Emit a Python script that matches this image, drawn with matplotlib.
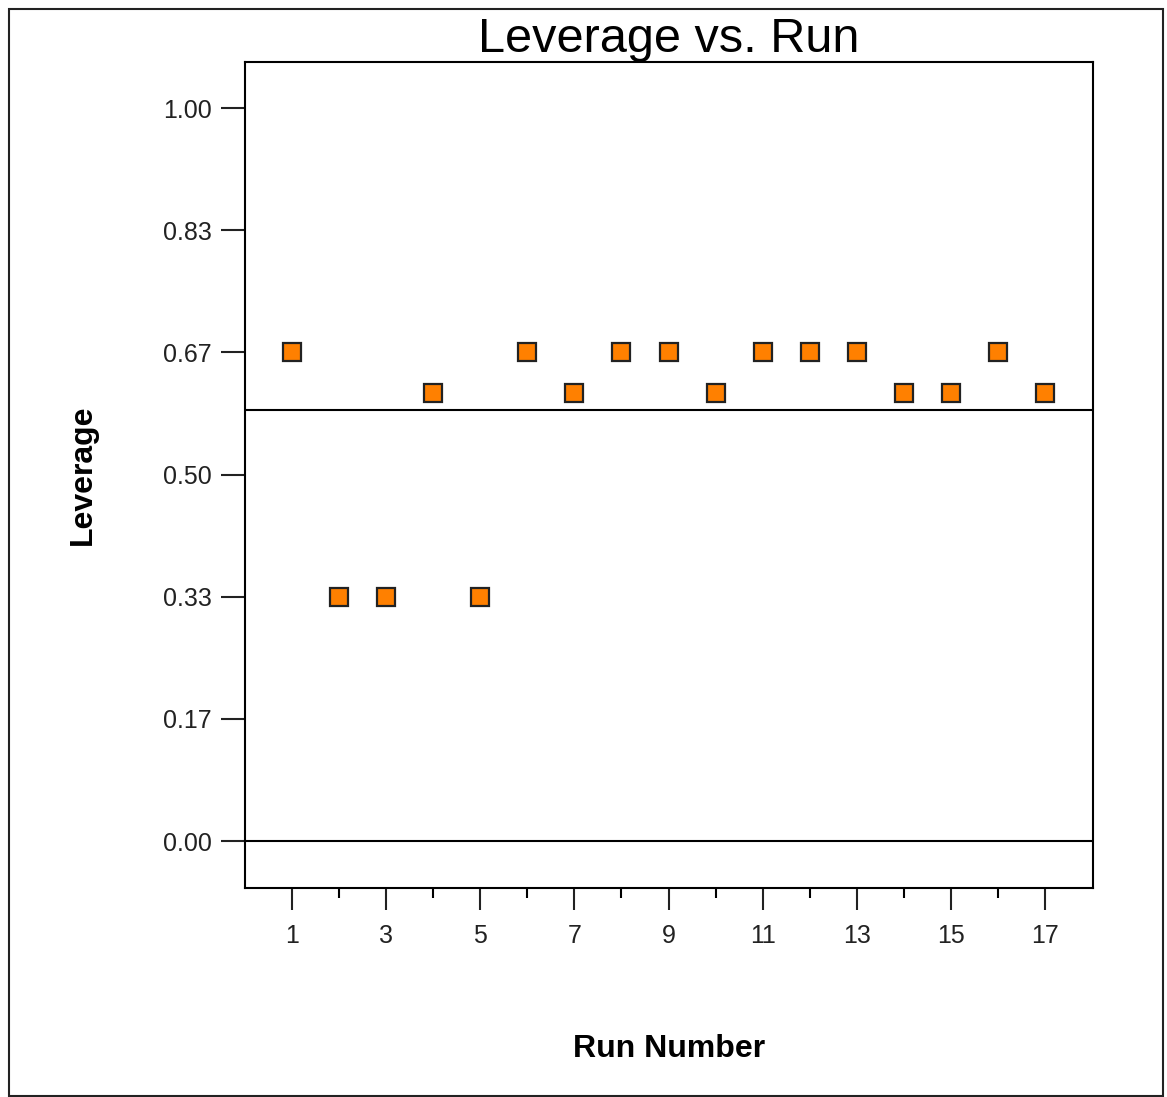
import matplotlib.pyplot as plt
from matplotlib.patches import Rectangle
from matplotlib.ticker import FixedLocator

plt.rcParams['font.family'] = ['Liberation Sans', 'DejaVu Sans']

# data
runs = list(range(1, 18))
leverage = [0.667, 0.333, 0.333, 0.611, 0.333, 0.667, 0.611, 0.667, 0.667,
            0.611, 0.667, 0.667, 0.667, 0.611, 0.611, 0.667, 0.611]
avg_leverage = 0.588
y_ticks = [0.0, 1 / 6, 2 / 6, 0.5, 4 / 6, 5 / 6, 1.0]
y_labels = ['0.00', '0.17', '0.33', '0.50', '0.67', '0.83', '1.00']
x_ticks = [1, 3, 5, 7, 9, 11, 13, 15, 17]
x_minor = [2, 4, 6, 8, 10, 12, 14, 16]

W, H = 1167, 1097
fig = plt.figure(figsize=(W / 100, H / 100), dpi=100)
ax = fig.add_axes([245 / W, 1 - 888 / H, 848 / W, 826 / H])

# outer frame
fig.patches.append(Rectangle((9 / W, 1 / H), 1154 / W, 1087 / H, transform=fig.transFigure,
                             fill=False, edgecolor='#222222', linewidth=1.5))

ax.axhline(avg_leverage, color='black', linewidth=1.5)
ax.axhline(0, color='black', linewidth=1.5)
ax.plot(runs, leverage, linestyle='none', marker='s', markersize=12.5,
        markerfacecolor='#ff8000', markeredgecolor='#222222', markeredgewidth=1.6)

ax.set_xlim(0, 18.02)
ax.set_ylim(-0.064, 1.063)
ax.set_xticks(x_ticks)
ax.xaxis.set_minor_locator(FixedLocator(x_minor))
ax.set_yticks(y_ticks)
ax.set_yticklabels(y_labels)

for s in ['left', 'bottom', 'right', 'top']:
    ax.spines[s].set_linewidth(1.5)
ax.tick_params(axis='y', which='major', direction='out', length=17, width=1.5,
               labelsize=18, pad=7, colors='#222222')
ax.tick_params(axis='x', which='major', direction='out', length=16, width=1.5,
               labelsize=18, pad=10, colors='#222222')
ax.tick_params(axis='x', which='minor', direction='out', length=7, width=1.5)
ax.tick_params(axis='y', which='minor', left=False)

ax.set_title('Leverage vs. Run', fontsize=35, pad=4)
ax.set_xlabel('Run Number', fontsize=23, fontweight='bold', labelpad=62)
ax.set_ylabel('Leverage', fontsize=23, fontweight='bold', labelpad=47)

fig.savefig('out.png', dpi=100)
